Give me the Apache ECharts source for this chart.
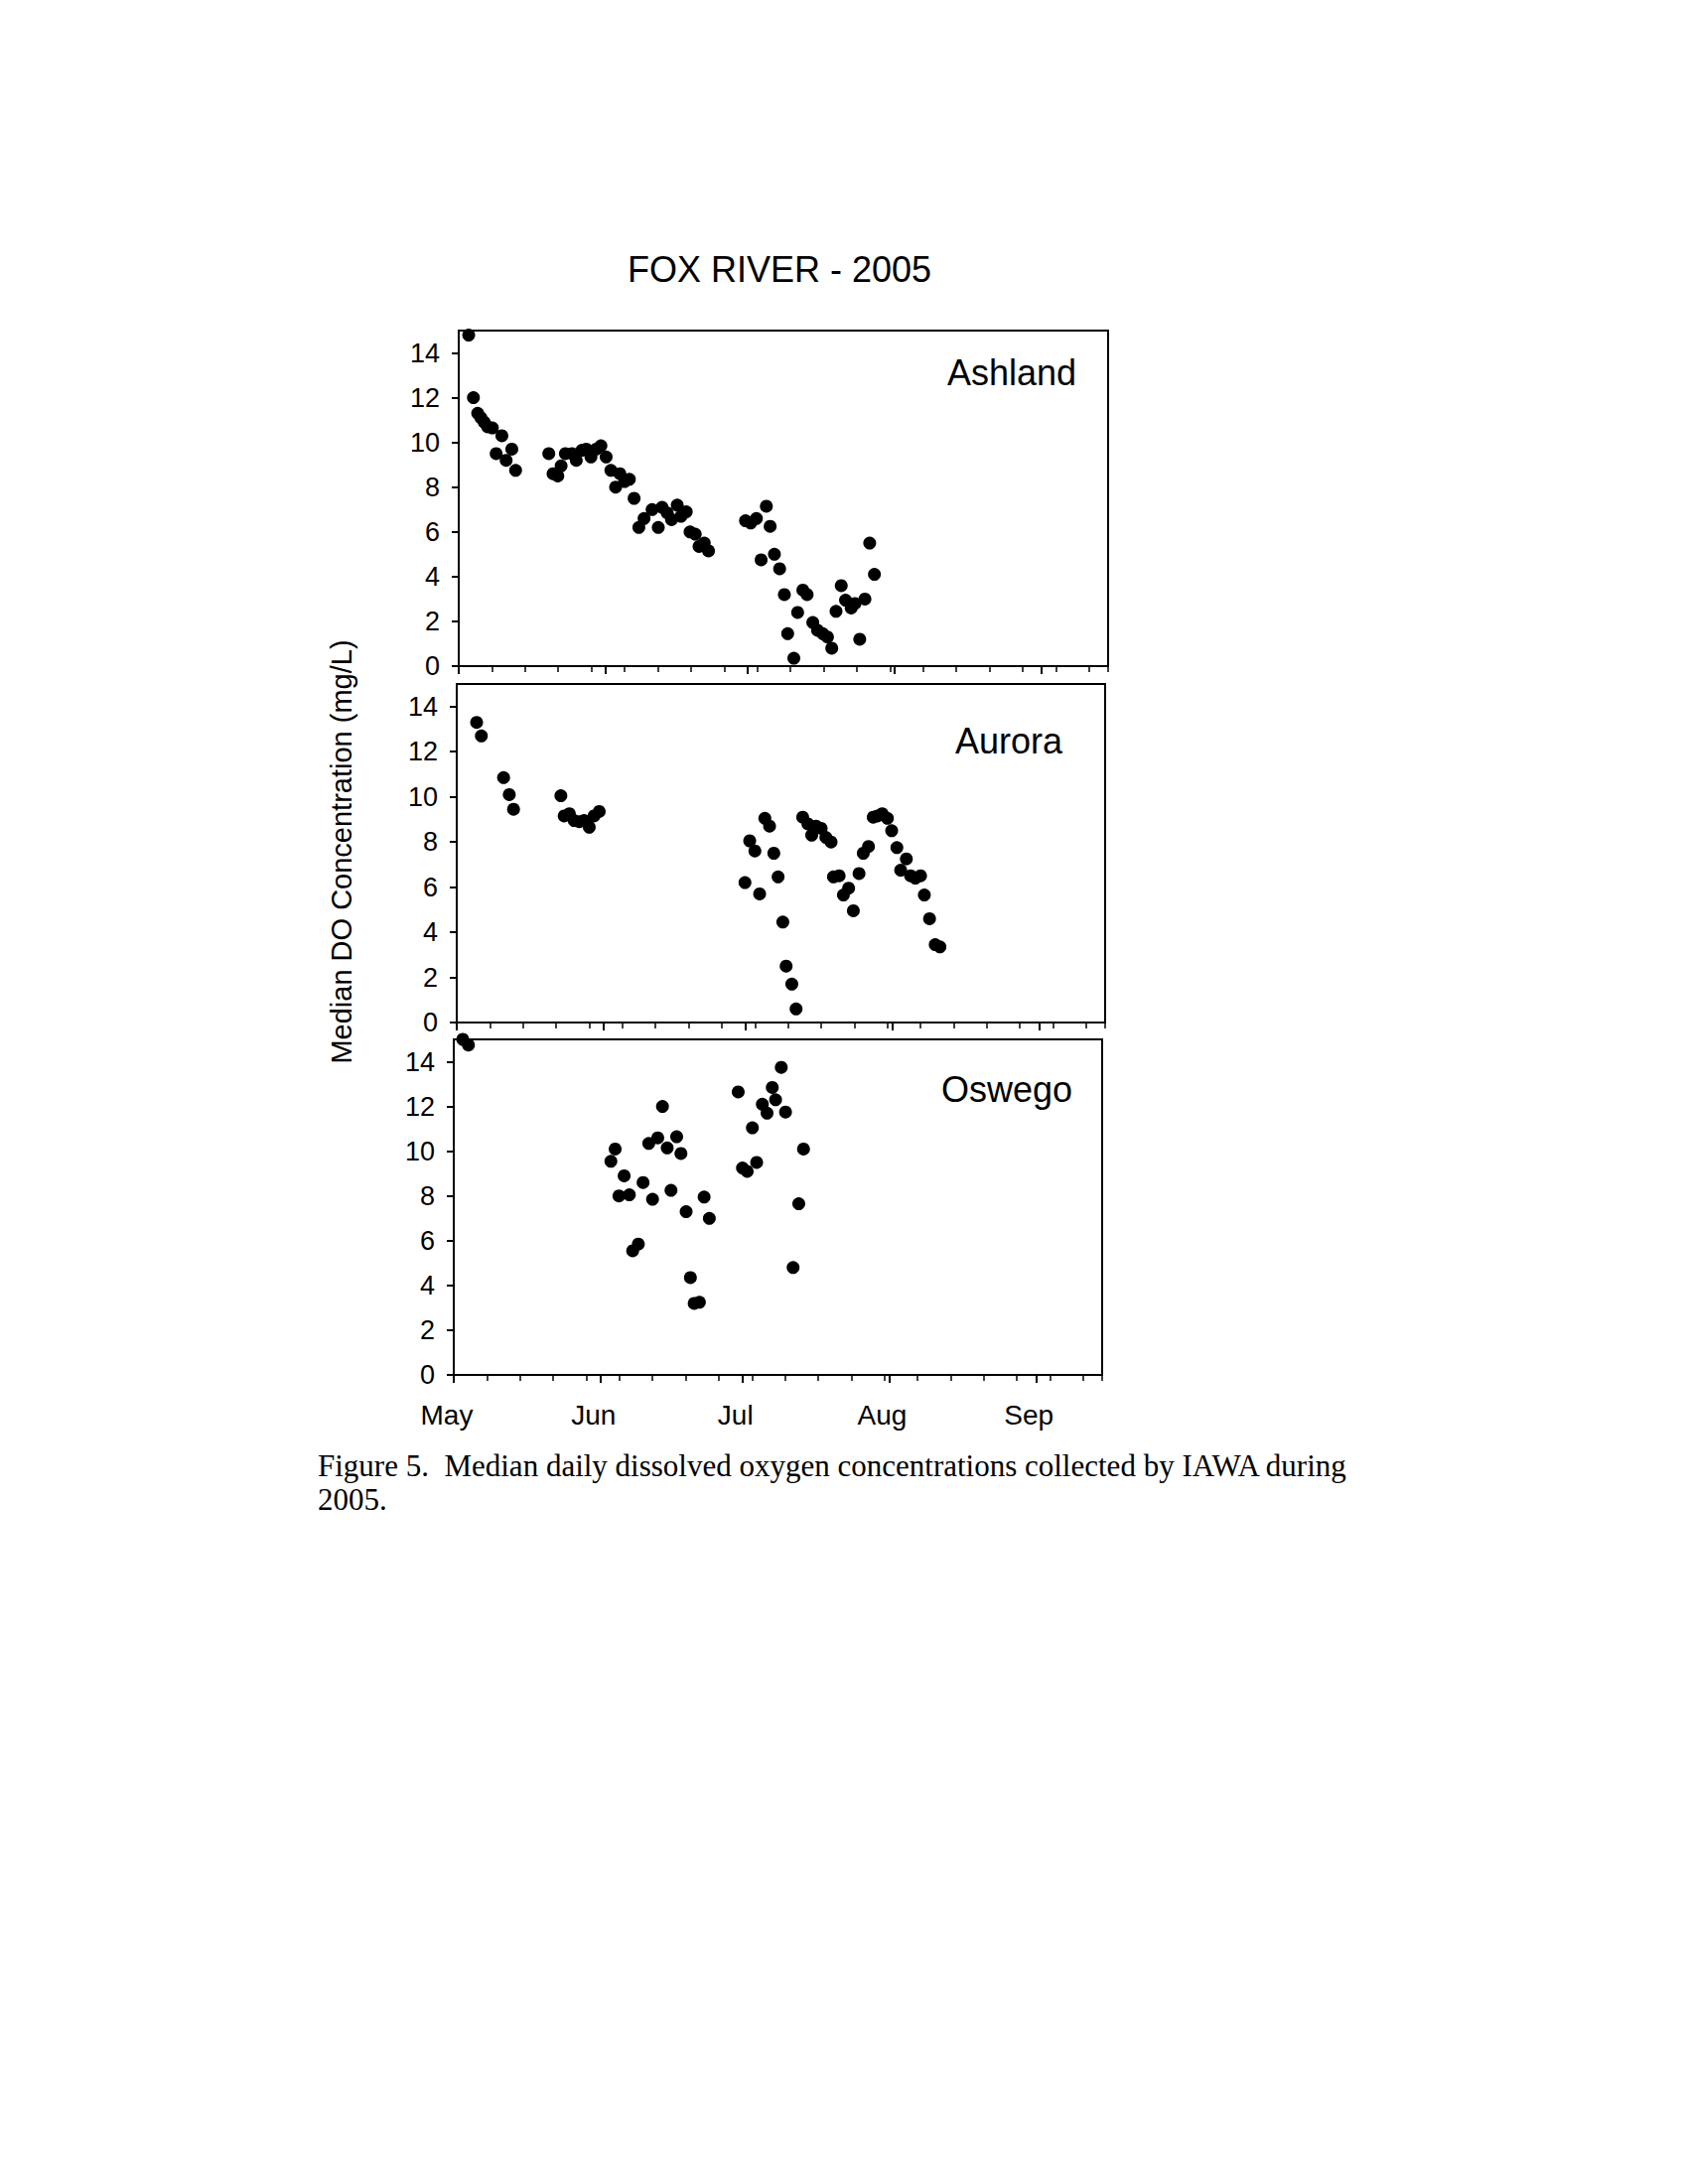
<!DOCTYPE html>
<html>
<head>
<meta charset="utf-8">
<script src="https://cdn.jsdelivr.net/npm/echarts@6/dist/echarts.min.js"></script>
<style>
html,body{margin:0;padding:0;background:#fff;}
#c{width:1696px;height:2200px;}
</style>
</head>
<body>
<div id="c"></div>
<script>
// x = days since May 1, 2005
var monthNames = ['May', 'Jun', 'Jul', 'Aug', 'Sep'];
var monthDays = [0, 31, 61, 92, 123];
var yTicks = [0, 2, 4, 6, 8, 10, 12, 14];
var stationNames = ['Ashland', 'Aurora', 'Oswego'];

var ashlandDays = [2.1,3.1,4.0,4.7,5.4,6.1,7.1,7.9,9.1,10.0,11.2,12.0,
  19.0,19.9,20.9,21.6,22.5,23.9,24.8,26.0,26.9,27.9,29.0,30.0,31.1,32.1,33.1,34.0,35.0,36.0,37.0,38.0,39.1,40.8,42.1,42.9,44.0,44.9,46.1,46.9,48.0,48.8,49.9,50.7,51.8,52.7,
  60.5,61.6,62.8,63.8,64.9,65.7,66.6,67.7,68.7,69.4,70.7,71.5,72.6,73.5,74.7,75.7,76.8,77.8,78.7,79.6,80.7,81.6,82.8,83.6,84.6,85.7,86.7,87.7];
var ashlandDO = [14.8,12.0,11.3,11.1,10.9,10.7,10.65,9.5,10.3,9.2,9.7,8.75,
  9.5,8.6,8.5,8.95,9.5,9.5,9.2,9.65,9.7,9.35,9.7,9.85,9.35,8.75,8.0,8.6,8.25,8.35,7.5,6.2,6.6,7.0,6.2,7.1,6.85,6.55,7.2,6.7,6.9,6.0,5.9,5.35,5.5,5.15,
  6.5,6.4,6.6,4.75,7.15,6.25,5.0,4.35,3.2,1.45,0.35,2.4,3.4,3.2,1.95,1.6,1.45,1.3,0.8,2.45,3.6,2.95,2.6,2.8,1.2,3.0,5.5,4.1];

var auroraDays = [4.2,5.2,9.9,11.1,12.0,
  22.0,22.7,23.8,24.8,25.9,26.9,28.0,29.0,30.1,
  60.9,61.9,63.0,64.0,65.1,66.1,67.0,67.9,68.9,69.6,70.8,71.7,73.1,74.2,75.0,75.9,77.0,78.0,79.1,79.6,80.8,81.7,82.8,83.8,85.0,85.9,87.0,88.0,88.9,89.9,91.0,91.9,93.0,93.8,95.0,95.9,96.9,98.0,98.8,99.9,101.1,102.1];
var auroraDO = [13.3,12.7,10.85,10.1,9.45,
  10.05,9.15,9.25,8.95,8.9,8.95,8.65,9.15,9.35,
  6.2,8.05,7.6,5.7,9.05,8.7,7.5,6.45,4.45,2.5,1.7,0.6,9.1,8.8,8.3,8.7,8.6,8.2,8.0,6.45,6.5,5.65,5.95,4.95,6.6,7.5,7.8,9.1,9.15,9.25,9.05,8.5,7.75,6.75,7.25,6.5,6.4,6.5,5.65,4.6,3.45,3.35];

var oswegoDays = [1.9,3.1,
  33.2,34.1,34.9,36.0,37.1,37.8,39.0,40.0,41.2,42.0,43.1,44.1,45.1,45.9,47.1,48.0,49.1,50.0,50.8,51.9,52.9,54.0,
  60.1,61.0,62.0,63.1,64.0,65.2,66.2,67.3,68.0,69.2,70.1,71.7,72.9,73.9];
var oswegoDO = [15.0,14.75,
  9.55,10.1,8.0,8.9,8.05,5.55,5.85,8.6,10.35,7.85,10.6,12.0,10.15,8.25,10.65,9.9,7.3,4.35,3.2,3.25,7.95,7.0,
  12.65,9.25,9.1,11.05,9.5,12.1,11.7,12.85,12.3,13.75,11.75,4.8,7.65,10.1];

function zip(a, b) { return a.map(function (v, i) { return [v, b[i]]; }); }
var stationData = [zip(ashlandDays, ashlandDO), zip(auroraDays, auroraDO), zip(oswegoDays, oswegoDO)];

var FONT = '"Liberation Sans", Arial, Helvetica, sans-serif';
var SERIF = '"Liberation Serif", "Times New Roman", serif';
var grids = [
  {left: 462, top: 333, width: 654, height: 338},
  {left: 460, top: 689, width: 653, height: 341},
  {left: 457, top: 1047, width: 653, height: 338}
];
var labelPos = [
  {x: 1084, y: 393},
  {x: 1070, y: 764},
  {x: 1080, y: 1115}
];

var xAxes = [], yAxes = [], series = [], gridOpts = [];
grids.forEach(function (g, i) {
  gridOpts.push({left: g.left, top: g.top, width: g.width, height: g.height,
    show: true, borderColor: '#000', borderWidth: 2, backgroundColor: 'transparent'});
  xAxes.push({
    type: 'value', gridIndex: i, position: 'bottom', min: 0, max: 137,
    axisLine: {show: true, onZero: false, lineStyle: {color: '#000', width: 2}},
    axisTick: {show: true, customValues: monthDays, length: 8, lineStyle: {color: '#000', width: 2}},
    axisLabel: {show: i === 2, customValues: monthDays, margin: 26, color: '#000',
      fontFamily: FONT, fontSize: 28, padding: [0, 14, 0, 0],
      formatter: function (v) { var k = monthDays.indexOf(Math.round(v)); return k >= 0 ? monthNames[k] : ''; }},
    splitLine: {show: false}
  });
  xAxes.push({
    type: 'value', gridIndex: i, position: 'bottom', min: 0, max: 137, interval: 7,
    axisLine: {show: false, onZero: false},
    axisTick: {show: true, length: 6, lineStyle: {color: '#000', width: 1.5}},
    axisLabel: {show: false},
    splitLine: {show: false}
  });
  yAxes.push({
    type: 'value', gridIndex: i, min: 0, max: 15,
    axisLine: {show: true, lineStyle: {color: '#000', width: 2}},
    axisTick: {show: true, customValues: yTicks, length: 7, lineStyle: {color: '#000', width: 2}},
    axisLabel: {show: true, customValues: yTicks, margin: 19, color: '#000', fontFamily: FONT, fontSize: 27},
    splitLine: {show: false}
  });
  series.push({
    type: 'scatter', name: stationNames[i], xAxisIndex: 2 * i, yAxisIndex: i,
    data: stationData[i], symbol: 'circle', symbolSize: 13, clip: false,
    itemStyle: {color: '#000', opacity: 1}, silent: true
  });
});

var graphics = [
  {type: 'text', x: 785, y: 271, style: {text: 'FOX RIVER - 2005', fill: '#000',
    font: '36px ' + FONT, textAlign: 'center', textVerticalAlign: 'middle'}},
  {type: 'text', x: 344, y: 858, rotation: Math.PI / 2, style: {text: 'Median DO Concentration (mg/L)', fill: '#000',
    font: '29px ' + FONT, textAlign: 'center', textVerticalAlign: 'middle'}},
  {type: 'text', x: 320, y: 1476, style: {text: 'Figure 5.  Median daily dissolved oxygen concentrations collected by IAWA during', fill: '#000',
    font: '31px ' + SERIF, textAlign: 'left', textVerticalAlign: 'middle'}},
  {type: 'text', x: 320, y: 1510, style: {text: '2005.', fill: '#000',
    font: '31px ' + SERIF, textAlign: 'left', textVerticalAlign: 'middle'}}
];
stationNames.forEach(function (n, i) {
  graphics.push({type: 'text', x: labelPos[i].x, y: labelPos[i].y, style: {text: n, fill: '#000',
    font: '36px ' + FONT, textAlign: 'right', textVerticalAlign: 'bottom'}});
});

var chart = echarts.init(document.getElementById('c'), null, {renderer: 'svg', width: 1696, height: 2200});
chart.setOption({
  backgroundColor: '#fff',
  animation: false,
  grid: gridOpts,
  xAxis: xAxes,
  yAxis: yAxes,
  series: series,
  graphic: graphics
});
</script>
</body>
</html>
